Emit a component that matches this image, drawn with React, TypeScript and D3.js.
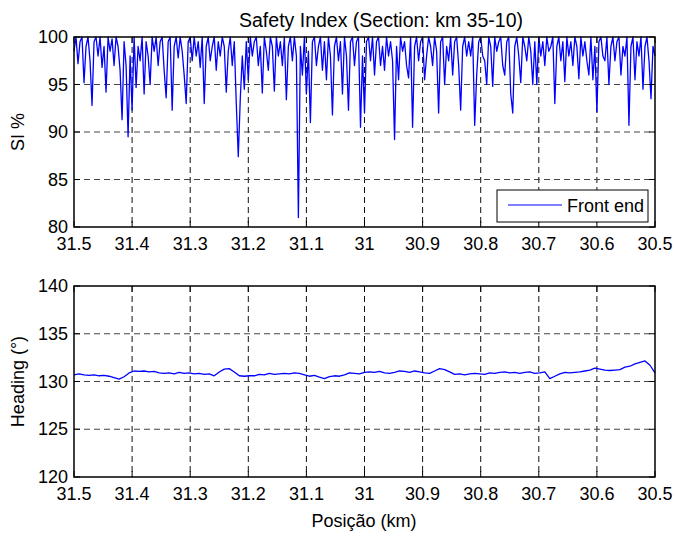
import React from "react";
import * as d3 from "d3";

// ---- Data ----
const xTicks = [31.5, 31.4, 31.3, 31.2, 31.1, 31, 30.9, 30.8, 30.7, 30.6, 30.5];
const siTicks = [80, 85, 90, 95, 100];
const headingTicks = [120, 125, 130, 135, 140];
const xStart = 31.5;
const xEnd = 30.5;

// Safety index (%) samples, evenly spaced from 31.5 km to 30.5 km
const siValues = [
  98.5, 100, 97.2, 99.5, 100, 95.2, 99, 100, 97.5, 92.8,
  99.5, 100, 98, 100, 96.8, 99, 94.2, 100, 98.5, 99.8,
  97, 100, 99, 96.5, 91.3, 99.5, 97, 89.5, 98, 92.3,
  100, 94.7, 99, 97.5, 100, 94, 99.5, 98, 95, 100,
  98.5, 100, 97, 99.5, 100, 96.5, 93.6, 99.5, 100, 92.3,
  99, 100, 97.8, 100, 98.5, 96, 93, 99.5, 100, 97.5,
  100, 98, 99.5, 96.8, 100, 93, 99, 100, 97.5, 99,
  100, 96.5, 99.5, 98, 100, 99, 94.2, 98.5, 100, 97,
  99.5, 93, 87.4, 93.5, 98, 94.5, 99.5, 95.5, 100, 98,
  99.5, 100, 97, 99, 94.1, 100, 98.5, 96.5, 100, 99,
  94.3, 100, 98, 99.5, 97, 100, 93.4, 99, 100, 97.5,
  100, 98, 81, 99, 96, 100, 94, 98.5, 91, 99.5,
  100, 97, 99, 100, 96.5, 99.5, 95.5, 100, 98, 91.8,
  99, 100, 97.5, 99.5, 94, 100, 98, 92.3, 99.5, 100,
  97, 99.5, 100, 90.5, 98, 92, 99.5, 100, 97.5, 100,
  96, 99.5, 100, 97, 99, 96.5, 100, 98, 99.5, 97.5,
  89.2, 99, 95.5, 100, 98.5, 99.5, 97, 95.7, 100, 90.5,
  99, 100, 97.5, 99.5, 100, 95.5, 98, 100, 99, 97,
  100, 98.5, 92, 99.5, 100, 95, 99, 97.5, 100, 96,
  99.5, 100, 97, 92.3, 99, 100, 98, 99.5, 98, 100,
  90.7, 96, 99.5, 100, 98, 97.5, 95, 100, 99, 94.8,
  100, 98.5, 99.5, 100, 97, 96, 99.5, 100, 94, 92,
  99, 100, 98, 95.2, 100, 99, 97.5, 100, 98.5, 95,
  99.5, 95, 100, 98, 99.5, 97, 100, 98.5, 99, 100,
  93, 99, 100, 97.5, 99.5, 95.3, 100, 98, 99.5, 97,
  100, 99, 95.6, 100, 98, 99.5, 97.5, 96, 100, 95.5,
  99, 92.1, 99.5, 100, 98, 97.5, 100, 95, 99, 100,
  97.5, 99.5, 100, 96, 99, 98, 100, 90.7, 99, 100,
  95.5, 99.5, 98, 100, 94.5, 99, 100, 97.5, 93.5, 99,
  98,
];

// Heading (deg) samples, evenly spaced from 31.5 km to 30.5 km
const headingValues = [
  130.7, 130.8, 130.7, 130.65, 130.7, 130.6, 130.65, 130.55, 130.4, 130.25,
  130.5, 130.9, 131.1, 131.05, 131.1, 131.0, 131.05, 130.9, 130.85, 130.9,
  130.8, 130.95, 130.85, 130.9, 130.8, 130.85, 130.75, 130.8, 130.6, 131.0,
  131.3, 131.35, 131.0, 130.6, 130.55, 130.6, 130.6, 130.75, 130.7, 130.85,
  130.75, 130.8, 130.85, 130.8, 130.9, 130.85, 130.7, 130.55, 130.65, 130.45,
  130.3, 130.5, 130.6, 130.55, 130.7, 130.9, 130.85, 130.8, 130.95, 131.0,
  130.95, 131.05, 130.9, 130.85, 130.95, 131.1, 131.05, 130.95, 131.1, 131.0,
  130.9, 130.85, 131.1, 131.35, 131.25, 131.0, 130.75, 130.8, 130.7, 130.8,
  130.85, 130.8, 130.75, 130.9, 130.85, 130.95, 131.0, 130.9, 130.95, 130.85,
  130.95, 131.0, 130.85, 130.9, 131.0, 130.3, 130.55, 130.8, 130.95, 130.9,
  130.95, 131.0, 131.1, 131.2, 131.4, 131.3, 131.2, 131.15, 131.2, 131.25,
  131.5, 131.6, 131.85, 132.0, 132.15, 131.7, 130.9,
];

const FONT = "'Liberation Sans', Arial, Helvetica, sans-serif";
const W = 676;
const H = 536;
const left = 74;
const right = 655;

type PanelProps = {
  top: number;
  bottom: number;
  yDomain: [number, number];
  yTicks: number[];
  values: number[];
  yLabel: string;
};

function Panel({ top, bottom, yDomain, yTicks, values, yLabel }: PanelProps) {
  const x = d3.scaleLinear().domain([xStart, xEnd]).range([left, right]);
  const y = d3.scaleLinear().domain(yDomain).range([bottom, top]);
  const n = values.length;
  const line = d3
    .line<number>()
    .x((_, i) => x(xStart + ((xEnd - xStart) * i) / (n - 1)))
    .y((v) => y(v));
  const tickLen = 6;
  return (
    <g>
      {/* grid */}
      {xTicks.slice(1, -1).map((t) => (
        <line key={"gx" + t} x1={x(t)} x2={x(t)} y1={top} y2={bottom} stroke="#111" strokeDasharray="6,4" strokeWidth={1} />
      ))}
      {yTicks.slice(1, -1).map((t) => (
        <line key={"gy" + t} x1={left} x2={right} y1={y(t)} y2={y(t)} stroke="#444" strokeDasharray="6,4" strokeWidth={1} />
      ))}
      {/* data */}
      <path d={line(values) || ""} fill="none" stroke="#0000ff" strokeWidth={1.3} strokeLinejoin="round" />
      {/* ticks inside */}
      {xTicks.map((t) => (
        <g key={"tx" + t}>
          <line x1={x(t)} x2={x(t)} y1={bottom} y2={bottom - tickLen} stroke="#000" />
          <line x1={x(t)} x2={x(t)} y1={top} y2={top + tickLen} stroke="#000" />
          <text x={x(t)} y={bottom + 23} textAnchor="middle" fontFamily={FONT} fontSize={18} fill="#000">
            {String(t)}
          </text>
        </g>
      ))}
      {yTicks.map((t) => (
        <g key={"ty" + t}>
          <line x1={left} x2={left + tickLen} y1={y(t)} y2={y(t)} stroke="#000" />
          <line x1={right} x2={right - tickLen} y1={y(t)} y2={y(t)} stroke="#000" />
          <text x={68} y={y(t)} dy="0.34em" textAnchor="end" fontFamily={FONT} fontSize={18} fill="#000">
            {String(t)}
          </text>
        </g>
      ))}
      {/* box */}
      <rect x={left} y={top} width={right - left} height={bottom - top} fill="none" stroke="#000" strokeWidth={1.5} />
      <text
        transform={`translate(24,${(top + bottom) / 2}) rotate(-90)`}
        textAnchor="middle"
        fontFamily={FONT}
        fontSize={18}
        fill="#000"
      >
        {yLabel}
      </text>
    </g>
  );
}

export default function App() {
  return (
    <svg width={W} height={H} style={{ position: "absolute", left: 0, top: 0, background: "#fff" }}>
      <rect x={0} y={0} width={W} height={H} fill="#fff" />
      <text x={381} y={27} textAnchor="middle" fontFamily={FONT} fontSize={19.5} fill="#000">
        Safety Index (Section: km 35-10)
      </text>
      <Panel top={37} bottom={227} yDomain={[80, 100]} yTicks={siTicks} values={siValues} yLabel="SI %" />
      {/* legend */}
      <rect x={497} y={190} width={151} height={32} fill="#fff" stroke="#000" strokeWidth={1} />
      <line x1={508} x2={562} y1={205} y2={205} stroke="#0000ff" strokeWidth={1} />
      <text x={567} y={212} fontFamily={FONT} fontSize={18} fill="#000">
        Front end
      </text>
      <Panel top={286} bottom={477} yDomain={[120, 140]} yTicks={headingTicks} values={headingValues} yLabel="Heading (°)" />
      <text x={364} y={527} textAnchor="middle" fontFamily={FONT} fontSize={18} fill="#000">
        Posição (km)
      </text>
    </svg>
  );
}
